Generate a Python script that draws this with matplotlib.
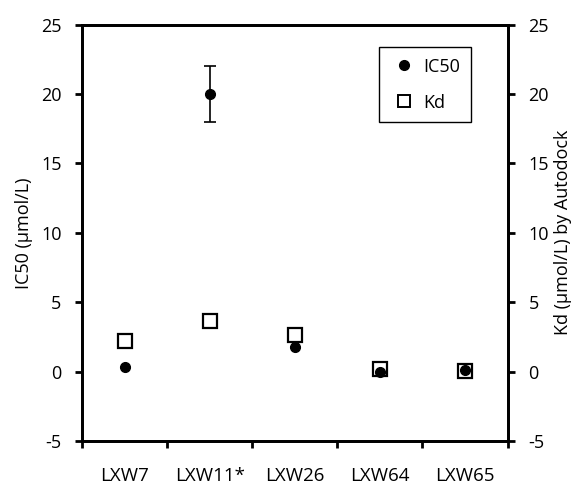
import numpy as np
import matplotlib
matplotlib.use("Agg")
import matplotlib.pyplot as plt

plt.rcParams['font.family'] = ['Open Sans', 'DejaVu Sans']
plt.rcParams['axes.unicode_minus'] = False

compounds = ["LXW7", "LXW11*", "LXW26", "LXW64", "LXW65"]
ic50 = [0.35, 20.0, 1.8, 0.0, 0.1]
ic50_err = [0, 2.0, 0, 0, 0]
kd = [2.2, 3.65, 2.6, 0.17, 0.07]

x = np.arange(len(compounds))

fig = plt.figure(figsize=(5.8, 4.84), dpi=100)
ax = fig.add_axes([0.142, 0.089, 0.733, 0.86])
ax2 = ax.twinx()
# IC50 dots should sit on top of the Kd squares
ax.set_zorder(ax2.get_zorder() + 1)
ax.patch.set_visible(False)

err = [e if e > 0 else np.nan for e in ic50_err]
ax.errorbar(x, ic50, yerr=err, fmt='o', color='black', ms=7,
            ecolor='black', elinewidth=1.2, capsize=4, capthick=1.2, zorder=3)
ax2.plot(x, kd, 's', ms=10, mfc='white', mec='black', mew=1.6, zorder=2)

for a in (ax, ax2):
  a.set_ylim(-5, 25)
  a.set_yticks(np.arange(-5, 26, 5))
  a.tick_params(axis='y', labelsize=13, width=2, length=5, pad=10, direction='out')
  for s in a.spines.values():
    s.set_linewidth(2)

ax.set_xlim(-0.5, len(compounds) - 0.5)
ax.set_xticks(np.arange(-0.5, len(compounds), 1.0))
ax.set_xticklabels([])
ax.set_xticks(x, minor=True)
ax.set_xticklabels(compounds, minor=True)
ax.tick_params(axis='x', which='major', width=2, length=5, direction='out')
ax.tick_params(axis='x', which='minor', length=0, labelsize=13.5, pad=19)

ax.set_ylabel("IC50 (μmol/L)", fontsize=13, labelpad=6)
ax2.set_ylabel("Kd (μmol/L) by Autodock", fontsize=13, labelpad=4)

h1 = plt.Line2D([], [], marker='o', ls='none', color='black', ms=7)
h2 = plt.Line2D([], [], marker='s', ls='none', mfc='white', mec='black', mew=1.4, ms=9)
leg = ax.legend([h1, h2], ["IC50", "Kd"], loc='upper right',
                bbox_to_anchor=(0.913, 0.947), borderaxespad=0, fontsize=13,
                fancybox=False, edgecolor='black', framealpha=1, labelspacing=1.0,
                handletextpad=0.3, borderpad=0.6, handlelength=1.5)
leg.get_frame().set_linewidth(1)

fig.savefig("out.png", dpi=100)
